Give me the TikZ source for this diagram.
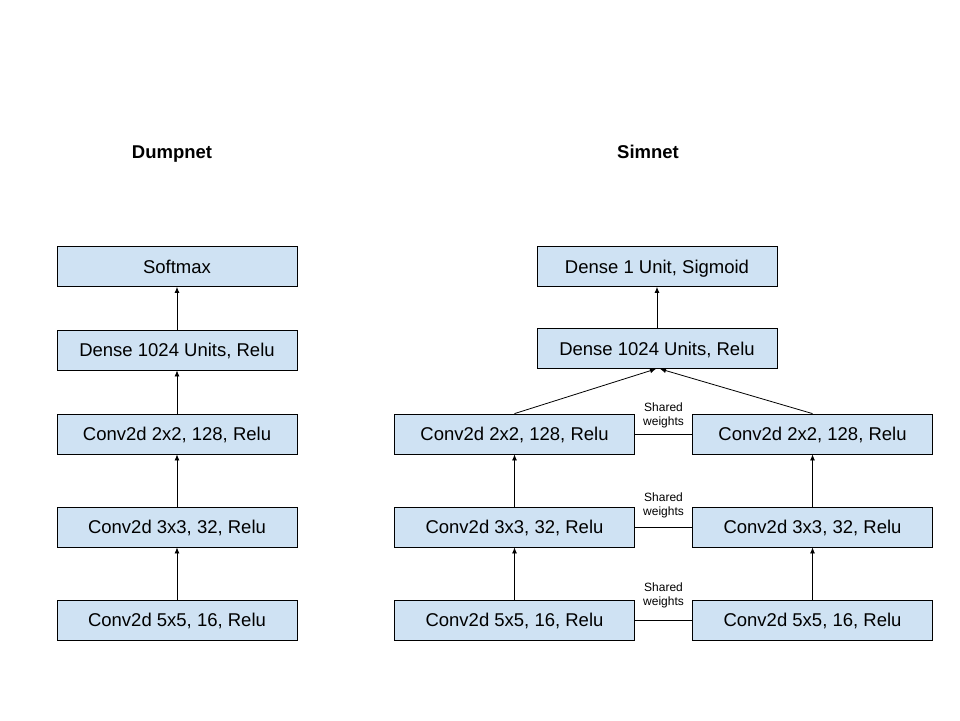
\documentclass[tikz,border=0pt]{standalone}
\usepackage{fontspec}
\setmainfont{Liberation Sans}
\usetikzlibrary{arrows.meta}
\definecolor{boxfill}{HTML}{CFE2F3}
\begin{document}
\begin{tikzpicture}[x=1pt,y=-1pt,
  layer/.style={draw=black,line width=0.8pt,fill=boxfill,minimum width=240pt,minimum height=40pt,inner sep=0pt,text height=13pt,text depth=0pt,font=\fontsize{18.5}{22}\selectfont},
  title/.style={font=\bfseries\fontsize{18.5}{22}\selectfont,inner sep=0pt,anchor=base},
  flow/.style={-{Latex[length=6pt,width=5pt]},line width=0.8pt},
  share/.style={line width=0.8pt},
  sharelabel/.style={font=\fontsize{12}{14.5}\selectfont,align=center,inner sep=0pt}]
\useasboundingbox (0,0) rectangle (960,720);

% titles
\node[title] (t1) at (172,158.5) {Dumpnet};
\node[title] (t2) at (648,158.5) {Simnet};

% Dumpnet
\node[layer] (ls) at (177,266.5) {Softmax};
\node[layer] (ld) at (177,350) {Dense 1024 Units, Relu};
\node[layer] (l2) at (177,434) {Conv2d 2x2, 128, Relu};
\node[layer] (l3) at (177,527) {Conv2d 3x3, 32, Relu};
\node[layer] (l5) at (177,620) {Conv2d 5x5, 16, Relu};
\draw[flow] (l5) -- (l3);
\draw[flow] (l3) -- (l2);
\draw[flow] (l2) -- (ld);
\draw[flow] (ld) -- (ls);

% Simnet
\node[layer] (rs) at (657,266.5) {Dense 1 Unit, Sigmoid};
\node[layer] (rd) at (657,348.5) {Dense 1024 Units, Relu};
\node[layer] (a2) at (514.5,434) {Conv2d 2x2, 128, Relu};
\node[layer] (a3) at (514.5,527) {Conv2d 3x3, 32, Relu};
\node[layer] (a5) at (514.5,620) {Conv2d 5x5, 16, Relu};
\node[layer] (b2) at (812.5,434) {Conv2d 2x2, 128, Relu};
\node[layer] (b3) at (812.5,527) {Conv2d 3x3, 32, Relu};
\node[layer] (b5) at (812.5,620) {Conv2d 5x5, 16, Relu};

\draw[flow] (a5) -- (a3);
\draw[flow] (a3) -- (a2);
\draw[flow] (b5) -- (b3);
\draw[flow] (b3) -- (b2);
\draw[flow] (a2.north) -- ([xshift=-1pt]rd.south);
\draw[flow] (b2.north) -- ([xshift=3pt]rd.south);
\draw[flow] (rd) -- (rs);

\draw[share] (a2) -- (b2);
\draw[share] (a3) -- (b3);
\draw[share] (a5) -- (b5);
\node[sharelabel] (s2) at (663.5,415.5) {Shared\\weights};
\node[sharelabel] (s3) at (663.5,505.5) {Shared\\weights};
\node[sharelabel] (s5) at (663.5,595.5) {Shared\\weights};
\end{tikzpicture}
\end{document}
